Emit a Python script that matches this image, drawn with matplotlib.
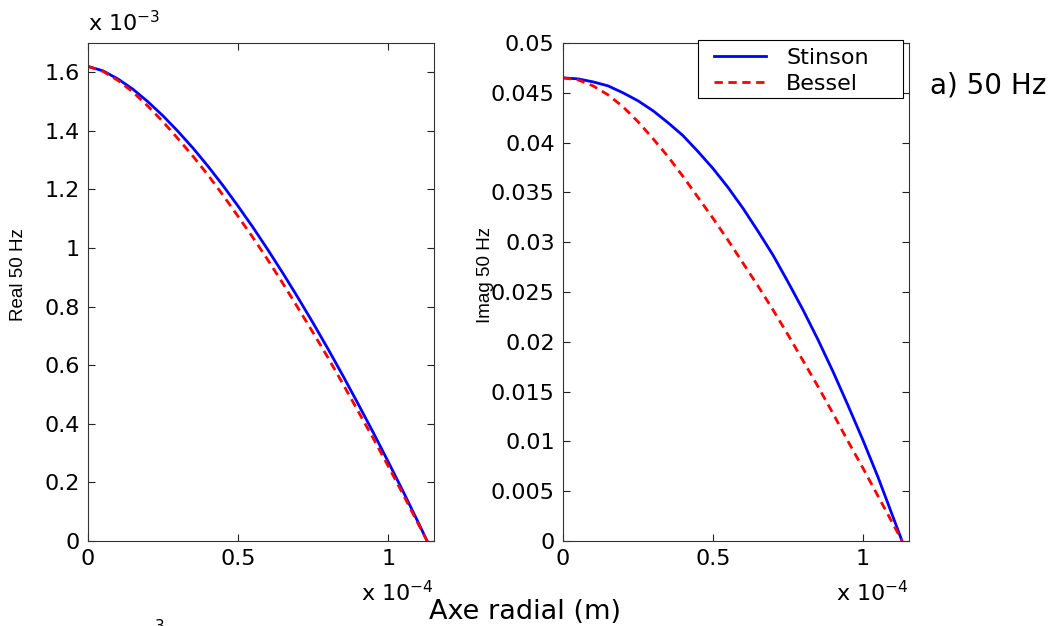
import numpy as np
import matplotlib
matplotlib.use("Agg")
import matplotlib.pyplot as plt
from matplotlib.patches import Rectangle

plt.rcParams['font.family'] = ['DejaVu Sans']
plt.rcParams['mathtext.default'] = 'regular'

# radial position, units of 1e-4 m
r = [0, 0.05, 0.1, 0.15, 0.2, 0.25, 0.3, 0.35, 0.4, 0.45, 0.5, 0.55,
     0.6, 0.65, 0.7, 0.75, 0.8, 0.85, 0.9, 0.95, 1.0, 1.05, 1.1, 1.13]

# real part, units of 1e-3
real_stinson = [1.62, 1.605, 1.577, 1.542, 1.499, 1.451, 1.398, 1.341, 1.279, 1.213, 1.143, 1.070,
                0.993, 0.913, 0.830, 0.744, 0.655, 0.563, 0.468, 0.371, 0.271, 0.169, 0.064, 0.0]
real_bessel = [1.62, 1.603, 1.572, 1.532, 1.484, 1.431, 1.373, 1.313, 1.249, 1.180, 1.108, 1.035,
               0.958, 0.878, 0.795, 0.711, 0.625, 0.535, 0.443, 0.351, 0.256, 0.159, 0.059, 0.0]

# imaginary part
imag_stinson = [0.0465, 0.0464, 0.0461, 0.0457, 0.0450, 0.0442, 0.0432, 0.0420, 0.0407, 0.0391, 0.0374, 0.0355,
                0.0334, 0.0311, 0.0287, 0.0260, 0.0232, 0.0202, 0.0170, 0.0136, 0.0101, 0.0064, 0.0024, 0.0]
imag_bessel = [0.0465, 0.0463, 0.0457, 0.0448, 0.0436, 0.0421, 0.0404, 0.0386, 0.0366, 0.0345, 0.0324, 0.0302,
               0.0279, 0.0256, 0.0232, 0.0207, 0.0181, 0.0155, 0.0128, 0.0100, 0.0073, 0.0045, 0.0017, 0.0]

xticks = [0, 0.5, 1]
xtick_labels = ['0', '0.5', '1']
real_ticks = [0, 0.2, 0.4, 0.6, 0.8, 1.0, 1.2, 1.4, 1.6]
real_labels = ['0', '0.2', '0.4', '0.6', '0.8', '1', '1.2', '1.4', '1.6']
imag_ticks = [0, 0.005, 0.01, 0.015, 0.02, 0.025, 0.03, 0.035, 0.04, 0.045, 0.05]
imag_labels = ['0', '0.005', '0.01', '0.015', '0.02', '0.025', '0.03', '0.035', '0.04', '0.045', '0.05']

fig = plt.figure(figsize=(10.62, 6.26), dpi=100)
ax1 = fig.add_axes([0.0829, 0.1358, 0.3258, 0.7955])
ax2 = fig.add_axes([0.5301, 0.1358, 0.3258, 0.7955])

lw = 2.0
ax1.plot(r, real_stinson, color='blue', lw=lw, label='Stinson')
ax1.plot(r, real_bessel, color='red', lw=lw, ls=(0, (3, 2)), label='Bessel')
ax2.plot(r, imag_stinson, color='blue', lw=lw, label='Stinson')
ax2.plot(r, imag_bessel, color='red', lw=lw, ls=(0, (3, 2)), label='Bessel')

for ax in (ax1, ax2):
    ax.set_xlim(0, 1.153)
    ax.set_xticks(xticks)
    ax.set_xticklabels(xtick_labels)
    ax.tick_params(direction='in', length=5, width=0.8, top=True, right=True,
                   labelsize=16, pad=6, color='#222222')
    for s in ax.spines.values():
        s.set_linewidth(0.8)
        s.set_color('#333333')
    ax.text(1.0, -0.12, r'x 10$^{-4}$', transform=ax.transAxes,
            ha='right', va='baseline', fontsize=16)

ax1.set_ylim(0, 1.7)
ax1.set_yticks(real_ticks)
ax1.set_yticklabels(real_labels)
ax1.set_ylabel('Real 50 Hz', fontsize=13.5, family='Liberation Sans')
ax1.yaxis.set_label_coords(-0.175, 0.535)
ax1.text(0.0, 1.015, r'x 10$^{-3}$', transform=ax1.transAxes,
         ha='left', va='bottom', fontsize=16)

ax2.set_ylim(0, 0.05)
ax2.set_yticks(imag_ticks)
ax2.set_yticklabels(imag_labels)
ax2.set_ylabel('Imag 50 Hz', fontsize=13.5, family='Liberation Sans')
ax2.yaxis.set_label_coords(-0.2, 0.535)

# legend box drawn as a separate frame so it can be wider than its contents
ax2.add_patch(Rectangle((0.390, 0.8896), 0.5925, 0.1165, transform=ax2.transAxes,
                        facecolor='white', edgecolor='black', lw=0.8,
                        clip_on=False, zorder=4))
leg = ax2.legend(loc='upper left', bbox_to_anchor=(0.436, 0.99), fontsize=16,
                 frameon=False, handlelength=2.35, borderpad=0, labelspacing=0.28,
                 handletextpad=0.9, borderaxespad=0)
leg.set_zorder(5)

fig.text(0.876, 0.851, 'a) 50 Hz', fontsize=20, ha='left', va='baseline')
fig.text(0.494, 0.011, 'Axe radial (m)', fontsize=19.5, ha='center', va='baseline')
fig.text(0.146, -0.012, '3', fontsize=11, ha='left', va='bottom')

fig.savefig('out.png', dpi=100)
